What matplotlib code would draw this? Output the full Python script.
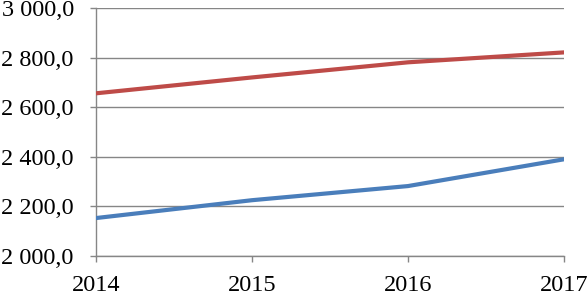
import matplotlib
matplotlib.use('Agg')
import matplotlib.pyplot as plt
from matplotlib.ticker import FuncFormatter

# Data
years = [2014, 2015, 2016, 2017]
red_values = [2656, 2720, 2781, 2821]
blue_values = [2153, 2225, 2282, 2390]
y_ticks = [2000, 2200, 2400, 2600, 2800, 3000]


def fmt_value(v, pos=None):
    # "3 000,0" style: space as thousands separator, comma as decimal mark
    s = f"{v:,.1f}".replace(',', ' ').replace('.', ',')
    return s


def plot_data():
    plt.rcParams['font.family'] = ['Liberation Serif', 'DejaVu Serif']
    fig = plt.figure(figsize=(5.88, 2.95), dpi=100)
    ax = fig.add_axes([96 / 588, 1 - 256 / 295, (564 - 96) / 588, (256 - 8) / 295])

    grid_color = '#868686'
    ax.plot(years, red_values, color='#BE4B48', linewidth=3.0, solid_capstyle='round', zorder=3)
    ax.plot(years, blue_values, color='#4A7EBB', linewidth=3.0, solid_capstyle='round', zorder=3)

    ax.set_xlim(years[0], years[-1])
    ax.set_ylim(y_ticks[0], y_ticks[-1])
    ax.set_xticks(years)
    ax.set_xticklabels([str(y) for y in years])
    ax.set_yticks(y_ticks)
    ax.yaxis.set_major_formatter(FuncFormatter(fmt_value))

    ax.grid(axis='y', color=grid_color, linewidth=1.0)
    ax.set_axisbelow(True)
    for side in ['top', 'right']:
        ax.spines[side].set_visible(False)
    for side in ['left', 'bottom']:
        ax.spines[side].set_color(grid_color)
        ax.spines[side].set_linewidth(1.0)

    ax.tick_params(axis='both', colors=grid_color, length=4.5, width=1.0,
                   labelcolor='black', labelsize=17.5)
    ax.tick_params(axis='x', pad=9)
    ax.tick_params(axis='y', pad=11.5)

    fig.savefig('out.png', dpi=100)


if __name__ == '__main__':
    plot_data()
